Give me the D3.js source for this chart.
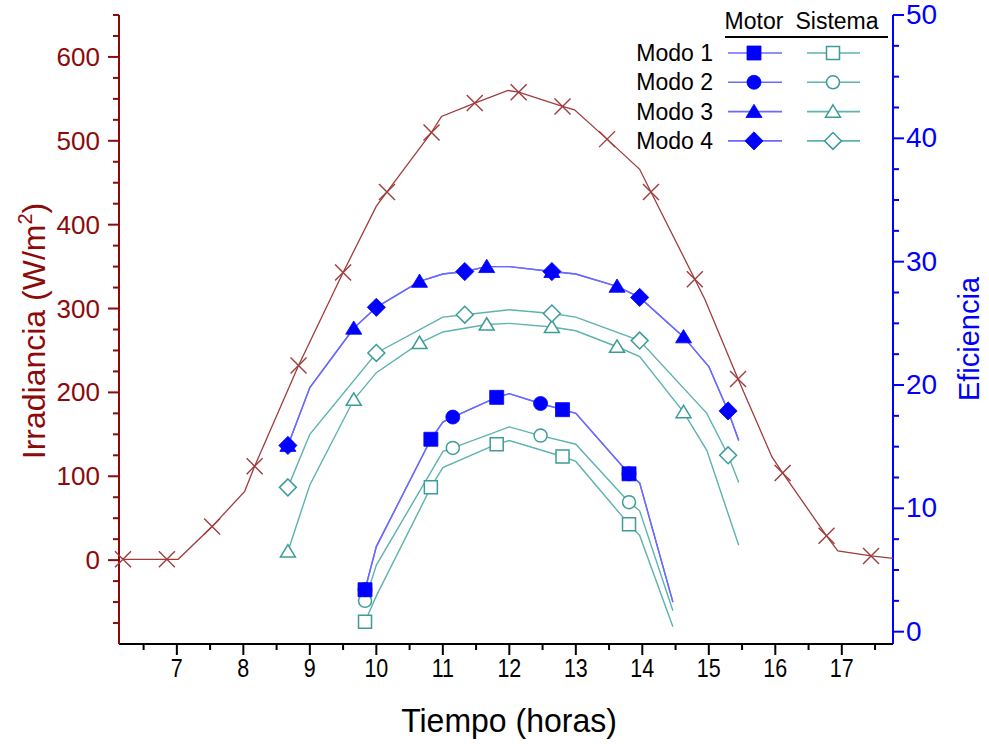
<!DOCTYPE html>
<html>
<head>
<meta charset="utf-8">
<script src="https://cdn.jsdelivr.net/npm/d3@7"></script>
<style>
  html, body { margin: 0; padding: 0; background: #fff; }
  svg text { font-family: "Liberation Sans", Arial, sans-serif; }
</style>
</head>
<body>
<svg id="chart" width="989" height="744"></svg>
<script>
// ---- Data: time (hours) vs irradiance (W/m2) and efficiency (%) ----
const timeTicks = [7, 8, 9, 10, 11, 12, 13, 14, 15, 16, 17];
const irrTicks = [0, 100, 200, 300, 400, 500, 600];
const effTicks = [0, 10, 20, 30, 40, 50];
const modes = ["Modo 1", "Modo 2", "Modo 3", "Modo 4"];

// Irradiance: full measured trace and the sampled points shown with crosses
const irrLine = [[6.19,1],[6.85,1],[7.02,1],[7.53,40],[8.02,82],[8.17,112],[8.83,232],[9.50,343],[10.0,422],[10.16,439],[10.83,510],[10.98,529],[11.48,545],[11.98,560],[12.14,558],[12.80,541],[12.98,537],[13.47,502],[13.96,466],[14.13,439],[14.79,335],[14.94,311],[15.44,216],[15.95,123],[16.11,104],[16.77,29],[16.94,11],[17.44,5],[17.77,2]];
const irrMarks = [[6.19,1],[6.85,1],[7.53,40],[8.17,112],[8.83,232],[9.50,343],[10.16,439],[10.83,510],[11.48,545],[12.14,558],[12.80,541],[13.47,502],[14.13,439],[14.79,335],[15.44,216],[16.11,104],[16.77,29],[17.44,5]];

// Motor efficiency, modes 1 & 2 (same curve)
const motor1Line = [[9.83,3.4],[10.0,6.9],[10.82,15.6],[11.0,17.0],[11.15,17.4],[11.81,19.0],[12.0,19.3],[12.47,18.5],[12.8,18.0],[13.0,17.7],[13.8,12.8],[13.96,12.06],[14.46,2.4]];
const motor1Marks = [[9.83,3.4],[10.82,15.6],[11.81,19.0],[12.8,18.0],[13.8,12.8]];
const motor2Line = [[9.83,3.4],[10.0,6.9],[10.82,15.6],[11.0,17.0],[11.15,17.4],[11.81,19.0],[12.0,19.3],[12.47,18.5],[12.8,18.0],[13.0,17.7],[13.8,12.8],[13.96,12.06],[14.46,2.4]];
const motor2Marks = [[9.83,3.4],[11.15,17.4],[12.47,18.5],[13.8,12.8]];

// Motor efficiency, modes 3 & 4 (same curve)
const motor3Line = [[8.67,15.1],[9.0,19.8],[9.66,24.6],[10.0,26.3],[10.65,28.4],[11.0,29.0],[11.33,29.2],[11.66,29.6],[12.0,29.6],[12.64,29.2],[13.0,29.0],[13.62,28.0],[13.96,27.1],[14.62,23.9],[15.0,21.5],[15.29,17.9],[15.45,15.5]];
const motor3Marks = [[8.67,15.1],[9.66,24.6],[10.65,28.4],[11.66,29.6],[12.64,29.2],[13.62,28.0],[14.62,23.9]];
const motor4Line = [[8.67,15.1],[9.0,19.8],[9.66,24.6],[10.0,26.3],[10.65,28.4],[11.0,29.0],[11.33,29.2],[11.66,29.6],[12.0,29.6],[12.64,29.2],[13.0,29.0],[13.62,28.0],[13.96,27.1],[14.62,23.9],[15.0,21.5],[15.29,17.9],[15.45,15.5]];
const motor4Marks = [[8.67,15.1],[10.0,26.3],[11.33,29.2],[12.64,29.2],[13.96,27.1],[15.29,17.9]];

// System efficiency per mode
const sis1Line = [[9.83,0.8],[10.0,2.9],[10.82,11.7],[11.0,13.3],[11.81,15.2],[12.0,15.5],[12.8,14.2],[13.0,13.8],[13.8,8.7],[13.96,7.8],[14.46,0.4]];
const sis1Marks = [[9.83,0.8],[10.82,11.7],[11.81,15.2],[12.8,14.2],[13.8,8.7]];
const sis2Line = [[9.83,2.5],[10.0,5.4],[11.0,14.6],[11.15,14.9],[12.0,16.6],[12.47,15.9],[13.0,15.2],[13.8,10.5],[13.96,9.8],[14.46,1.7]];
const sis2Marks = [[9.83,2.5],[11.15,14.9],[12.47,15.9],[13.8,10.5]];
const sis3Line = [[8.67,6.5],[9.0,11.9],[9.66,18.8],[10.0,21.0],[10.65,23.4],[11.0,24.3],[11.66,24.9],[12.0,25.0],[12.64,24.7],[13.0,24.4],[13.62,23.1],[13.96,22.3],[14.62,17.8],[14.97,14.7],[15.45,7.0]];
const sis3Marks = [[8.67,6.5],[9.66,18.8],[10.65,23.4],[11.66,24.9],[12.64,24.7],[13.62,23.1],[14.62,17.8]];
const sis4Line = [[8.67,11.7],[9.0,16.0],[10.0,22.6],[11.0,25.5],[11.33,25.7],[12.0,26.1],[12.64,25.8],[13.0,25.5],[13.96,23.6],[14.97,17.7],[15.29,14.3],[15.45,12.1]];
const sis4Marks = [[8.67,11.7],[10.0,22.6],[11.33,25.7],[12.64,25.8],[13.96,23.6],[15.29,14.3]];

// ---- Styling ----
const RED = "#8b0a0a", IRR = "#a03c3c", BLUE = "#0000ff", BLUE_LINE = "#6a6aff",
      TEAL = "#3d9c98", TEAL_LINE = "#5db3ae";

const svg = d3.select("#chart");
const L = 119, R = 893, T = 15, B = 644;

const x = d3.scaleLinear().domain([6.13, 17.77]).range([L, R]);
const yIrr = d3.scaleLinear().domain([-100, 650]).range([B, T]);
const yEff = d3.scaleLinear().domain([-1, 50]).range([B, T]);

// Marker shapes
function shapePath(kind, s) {
  switch (kind) {
    case "square": return `M${-s},${-s}H${s}V${s}H${-s}Z`;
    case "circle": return `M${s},0A${s},${s} 0 1,1 ${-s},0A${s},${s} 0 1,1 ${s},0Z`;
    case "triangle": return `M0,${-s*1.05}L${s*1.15},${s*0.85}L${-s*1.15},${s*0.85}Z`;
    case "diamond": return `M0,${-s*1.3}L${s*1.3},0L0,${s*1.3}L${-s*1.3},0Z`;
  }
}

function drawMarks(g, pts, yS, kind, filled) {
  const s = filled ? 7 : 6.5;
  g.selectAll(null).data(pts).enter().append("path")
    .attr("transform", d => `translate(${x(d[0])},${yS(d[1])})`)
    .attr("d", shapePath(kind, s))
    .attr("fill", filled ? BLUE : "#fff")
    .attr("stroke", filled ? BLUE : TEAL)
    .attr("stroke-width", filled ? 0.8 : 1.5);
}

const lineIrr = d3.line().x(d => x(d[0])).y(d => yIrr(d[1]));
const lineEff = d3.line().x(d => x(d[0])).y(d => yEff(d[1]));

// ---- Axes ----
// Bottom (time)
const xAxis = svg.append("g");
xAxis.append("line").attr("x1", L).attr("x2", R).attr("y1", B).attr("y2", B)
  .attr("stroke", "#000").attr("stroke-width", 2);
const xMinor = d3.range(6.5, 17.6, 1);
xAxis.selectAll(null).data(xMinor).enter().append("line")
  .attr("x1", d => x(d)).attr("x2", d => x(d)).attr("y1", B).attr("y2", B + 6)
  .attr("stroke", "#000").attr("stroke-width", 2);
xAxis.selectAll(null).data(timeTicks).enter().append("line")
  .attr("x1", d => x(d)).attr("x2", d => x(d)).attr("y1", B).attr("y2", B + 11)
  .attr("stroke", "#000").attr("stroke-width", 2);
xAxis.selectAll(null).data(timeTicks).enter().append("text")
  .attr("transform", d => `translate(${x(d)},677) scale(0.86,1)`)
  .attr("text-anchor", "middle")
  .attr("font-size", 25).attr("fill", "#000").text(d => d);
svg.append("text").attr("transform", "translate(509,732) scale(1,1.03)")
  .attr("text-anchor", "middle")
  .attr("font-size", 32).attr("fill", "#000").text("Tiempo (horas)");

// Left (irradiance)
const yl = svg.append("g");
yl.append("line").attr("x1", L).attr("x2", L).attr("y1", T).attr("y2", B)
  .attr("stroke", RED).attr("stroke-width", 2);
const irrMinor = d3.range(-75, 651, 25).filter(v => v % 100 !== 0);
yl.selectAll(null).data(irrMinor).enter().append("line")
  .attr("x1", L - 6).attr("x2", L).attr("y1", d => yIrr(d)).attr("y2", d => yIrr(d))
  .attr("stroke", RED).attr("stroke-width", 2);
yl.selectAll(null).data(irrTicks).enter().append("line")
  .attr("x1", L - 11).attr("x2", L).attr("y1", d => yIrr(d)).attr("y2", d => yIrr(d))
  .attr("stroke", RED).attr("stroke-width", 2);
yl.selectAll(null).data(irrTicks).enter().append("text")
  .attr("x", 100).attr("y", d => yIrr(d) + 9).attr("text-anchor", "end")
  .attr("font-size", 26).attr("fill", RED).text(d => d);
const irrTitle = svg.append("text").attr("transform", "translate(45,331) rotate(-90)")
  .attr("text-anchor", "middle").attr("font-size", 32).attr("fill", RED);
irrTitle.append("tspan").text("Irradiancia (W/m");
irrTitle.append("tspan").attr("font-size", 20).attr("dy", -13).text("2");
irrTitle.append("tspan").attr("dy", 13).text(")");

// Right (efficiency)
const yr = svg.append("g");
yr.append("line").attr("x1", R).attr("x2", R).attr("y1", T).attr("y2", B)
  .attr("stroke", BLUE).attr("stroke-width", 2);
const effMinor = d3.range(0, 50.1, 2.5).filter(v => v % 10 !== 0);
yr.selectAll(null).data(effMinor).enter().append("line")
  .attr("x1", R).attr("x2", R + 6).attr("y1", d => yEff(d)).attr("y2", d => yEff(d))
  .attr("stroke", BLUE).attr("stroke-width", 2);
yr.selectAll(null).data(effTicks).enter().append("line")
  .attr("x1", R).attr("x2", R + 11).attr("y1", d => yEff(d)).attr("y2", d => yEff(d))
  .attr("stroke", BLUE).attr("stroke-width", 2);
yr.selectAll(null).data(effTicks).enter().append("text")
  .attr("x", 906).attr("y", d => yEff(d) + 9).attr("text-anchor", "start")
  .attr("font-size", 28).attr("fill", BLUE).text(d => d);
svg.append("text").attr("transform", "translate(979,339) rotate(-90)")
  .attr("text-anchor", "middle").attr("font-size", 29).attr("fill", BLUE).text("Eficiencia");

// ---- Curves ----
const plot = svg.append("g");

plot.append("path").datum(irrLine).attr("d", lineIrr)
  .attr("fill", "none").attr("stroke", IRR).attr("stroke-width", 1.3);
plot.selectAll(null).data(irrMarks).enter().append("path")
  .attr("transform", d => `translate(${x(d[0])},${yIrr(d[1])})`)
  .attr("d", "M-8,-8L8,8M-8,8L8,-8")
  .attr("stroke", IRR).attr("stroke-width", 1.4).attr("fill", "none");

const sisLines = [sis1Line, sis2Line, sis3Line, sis4Line];
const motorLines = [motor1Line, motor2Line, motor3Line, motor4Line];
sisLines.forEach(l => plot.append("path").datum(l).attr("d", lineEff)
  .attr("fill", "none").attr("stroke", TEAL_LINE).attr("stroke-width", 1.4));
motorLines.forEach(l => plot.append("path").datum(l).attr("d", lineEff)
  .attr("fill", "none").attr("stroke", BLUE_LINE).attr("stroke-width", 1.4));

drawMarks(plot, sis1Marks, yEff, "square", false);
drawMarks(plot, sis2Marks, yEff, "circle", false);
drawMarks(plot, sis3Marks, yEff, "triangle", false);
drawMarks(plot, sis4Marks, yEff, "diamond", false);
drawMarks(plot, motor1Marks, yEff, "square", true);
drawMarks(plot, motor2Marks, yEff, "circle", true);
drawMarks(plot, motor3Marks, yEff, "triangle", true);
drawMarks(plot, motor4Marks, yEff, "diamond", true);

// ---- Legend ----
const lg = svg.append("g");
lg.append("text").attr("x", 754).attr("y", 29).attr("text-anchor", "middle")
  .attr("font-size", 23).text("Motor");
lg.append("text").attr("x", 837).attr("y", 29).attr("text-anchor", "middle")
  .attr("font-size", 23).text("Sistema");
lg.append("line").attr("x1", 725).attr("x2", 888).attr("y1", 37).attr("y2", 37)
  .attr("stroke", "#000").attr("stroke-width", 2);
const kinds = ["square", "circle", "triangle", "diamond"];
modes.forEach((m, i) => {
  const cy = 53 + i * 29.3;
  lg.append("text").attr("x", 713).attr("y", cy + 8).attr("text-anchor", "end")
    .attr("font-size", 23).text(m);
  lg.append("line").attr("x1", 728).attr("x2", 782).attr("y1", cy).attr("y2", cy)
    .attr("stroke", BLUE_LINE).attr("stroke-width", 1.6);
  lg.append("line").attr("x1", 807).attr("x2", 860).attr("y1", cy).attr("y2", cy)
    .attr("stroke", TEAL_LINE).attr("stroke-width", 1.6);
  lg.append("path").attr("transform", `translate(754,${cy})`).attr("d", shapePath(kinds[i], 7))
    .attr("fill", BLUE).attr("stroke", BLUE).attr("stroke-width", 0.8);
  lg.append("path").attr("transform", `translate(833,${cy})`).attr("d", shapePath(kinds[i], 6.5))
    .attr("fill", "#fff").attr("stroke", TEAL).attr("stroke-width", 1.5);
});
</script>
</body>
</html>
